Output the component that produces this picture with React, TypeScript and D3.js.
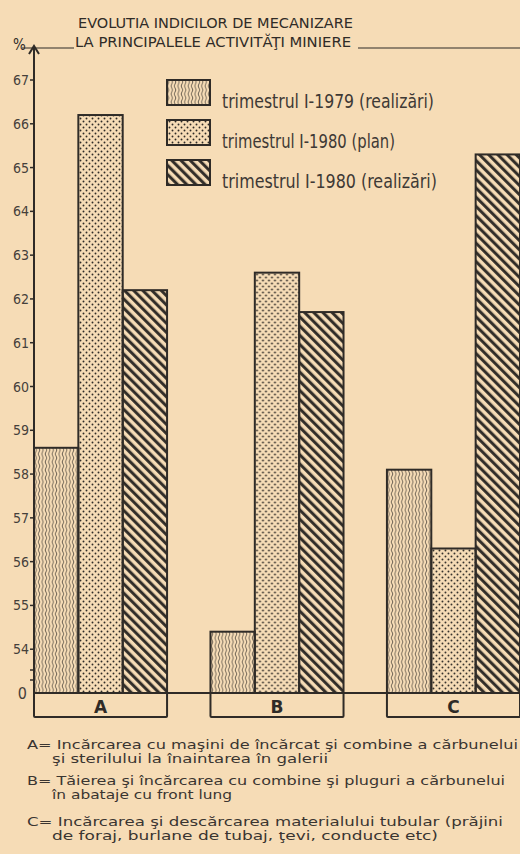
import React from "react";
import * as d3 from "d3";

const categories = ["A", "B", "C"];
const seriesNames = [
  "trimestrul I-1979 (realizări)",
  "trimestrul I-1980 (plan)",
  "trimestrul I-1980 (realizări)",
];
const real1979 = [58.6, 54.4, 58.1];
const plan1980 = [66.2, 62.6, 56.3];
const real1980 = [62.2, 61.7, 65.3];
const yTicks = [54, 55, 56, 57, 58, 59, 60, 61, 62, 63, 64, 65, 66, 67];
const breakLabel = "0";
const breakValue = 53;

const titleLines = ["EVOLUTIA INDICILOR DE MECANIZARE", "LA PRINCIPALELE ACTIVITĂŢI MINIERE"];
const notes = [
  { text: "A= Incărcarea  cu maşini de încărcat şi combine a cărbunelui", indent: false, len: 491 },
  { text: "şi sterilului la înaintarea în galerii", indent: true, len: 276 },
  { text: "B= Tăierea şi încărcarea  cu combine şi pluguri  a cărbunelui", indent: false, len: 478 },
  { text: "în abataje cu front lung", indent: true, len: 180 },
  { text: "C= Incărcarea şi descărcarea  materialului tubular (prăjini", indent: false, len: 476 },
  { text: "de foraj, burlane de tubaj, ţevi, conducte etc)", indent: true, len: 386 },
];
const noteY = [749, 763, 785, 799, 826, 840];

const W = 520;
const H = 854;
const paper = "#f6dcb6";
const ink = "#2f2b27";
const font = "'DejaVu Sans Condensed', 'Liberation Sans Narrow', 'DejaVu Sans', sans-serif";

export default function App() {
  const data = categories.map((c, i) => ({
    cat: c,
    vals: [real1979[i], plan1980[i], real1980[i]],
  }));

  // groups on x, broken axis on y (53 stands for the "0" baseline)
  const x = d3.scaleBand().domain(categories).range([34, 520]).paddingInner(0.246).paddingOuter(0);
  const xs = d3.scaleBand<number>().domain([0, 1, 2]).range([0, x.bandwidth()]);
  const y = d3.scaleLinear().domain([breakValue, 67]).range([693, 80]);
  const base = y(breakValue);
  const fills = ["url(#wavy)", "url(#dots)", "url(#hatch)"];
  const legendY = [80, 120, 160];
  const legendLen = [212, 173, 215];

  return (
    <svg width={W} height={H} style={{ position: "absolute", left: 0, top: 0, display: "block" }}>
      <defs>
        <pattern id="wavy" width={3.4} height={8} patternUnits="userSpaceOnUse">
          <path d="M1.7 0 Q3.2 2 1.7 4 Q0.2 6 1.7 8" fill="none" stroke={ink} strokeWidth={0.7} />
        </pattern>
        <pattern id="dots" width={6} height={6} patternUnits="userSpaceOnUse">
          <circle cx={1.5} cy={1.5} r={0.95} fill={ink} />
          <circle cx={4.5} cy={4.5} r={0.95} fill={ink} />
        </pattern>
        <pattern id="hatch" width={6.5} height={6.5} patternUnits="userSpaceOnUse" patternTransform="rotate(-45)">
          <line x1={1.6} y1={0} x2={1.6} y2={6.5} stroke={ink} strokeWidth={3} />
        </pattern>
      </defs>
      <rect width={W} height={H} fill={paper} />

      {/* title */}
      <g fontFamily={font} fill={ink}>
        <text x={78} y={28} fontSize={14} textLength={275} lengthAdjust="spacingAndGlyphs">{titleLines[0]}</text>
        <text x={75} y={47} fontSize={14} textLength={276} lengthAdjust="spacingAndGlyphs">{titleLines[1]}</text>
        <text x={13} y={50} fontSize={15}>%</text>
      </g>
      <line x1={22} x2={74} y1={48} y2={48} stroke={ink} strokeWidth={1.2} />
      <line x1={358} x2={520} y1={48} y2={48} stroke={ink} strokeWidth={1.2} />

      {/* bars */}
      {data.map((d) => (
        <g key={d.cat} transform={`translate(${x(d.cat)},0)`}>
          {d.vals.map((v, j) => (
            <rect
              key={j}
              x={xs(j)}
              y={y(v)}
              width={xs.bandwidth()}
              height={base - y(v)}
              fill={paper}
            />
          ))}
          {d.vals.map((v, j) => (
            <rect
              key={"p" + j}
              x={xs(j)}
              y={y(v)}
              width={xs.bandwidth()}
              height={base - y(v)}
              fill={fills[j]}
              stroke={ink}
              strokeWidth={2}
            />
          ))}
          <rect x={0} y={base} width={x.bandwidth()} height={24} fill="none" stroke={ink} strokeWidth={2} rx={1} />
          <text
            x={x.bandwidth() / 2}
            y={base + 20}
            textAnchor="middle"
            fontFamily="'DejaVu Sans', sans-serif"
            fontWeight="bold"
            fontSize={17}
            fill={ink}
          >
            {d.cat}
          </text>
        </g>
      ))}

      {/* baseline and y axis */}
      <line x1={34} x2={W} y1={base} y2={base} stroke={ink} strokeWidth={2} />
      <line x1={34} x2={34} y1={base} y2={46} stroke={ink} strokeWidth={2} />
      <path d="M29 54 L34 46 L39 54" fill="none" stroke={ink} strokeWidth={2} />
      <g fontFamily={font} fontSize={14} fill="#45403b">
        {yTicks.map((t) => (
          <g key={t}>
            <line x1={30} x2={35} y1={y(t)} y2={y(t)} stroke={ink} strokeWidth={1.5} />
            <text x={29} y={y(t) + 5} textAnchor="end">{t}</text>
          </g>
        ))}
        <line x1={30} x2={35} y1={670} y2={670} stroke={ink} strokeWidth={1.5} />
        <line x1={30} x2={35} y1={680} y2={680} stroke={ink} strokeWidth={1.5} />
        <text x={27} y={base + 6} textAnchor="end" fontSize={16}>{breakLabel}</text>
      </g>

      {/* legend */}
      <g fontFamily={font} fill="#3e3935">
        {seriesNames.map((s, i) => (
          <g key={s}>
            <rect x={167} y={legendY[i]} width={43} height={25} fill={paper} />
            <rect x={167} y={legendY[i]} width={43} height={25} fill={fills[i]} stroke={ink} strokeWidth={2} />
            <text x={222} y={legendY[i] + 28} fontSize={19} textLength={legendLen[i]} lengthAdjust="spacingAndGlyphs">
              {s}
            </text>
          </g>
        ))}
      </g>

      {/* notes */}
      <g fontFamily={font} fontSize={12.5} fill="#3a3531">
        {notes.map((n, i) => (
          <text
            key={i}
            x={n.indent ? 52 : 27}
            y={noteY[i]}
            textLength={n.len}
            lengthAdjust="spacingAndGlyphs"
          >
            {n.text}
          </text>
        ))}
      </g>
    </svg>
  );
}
